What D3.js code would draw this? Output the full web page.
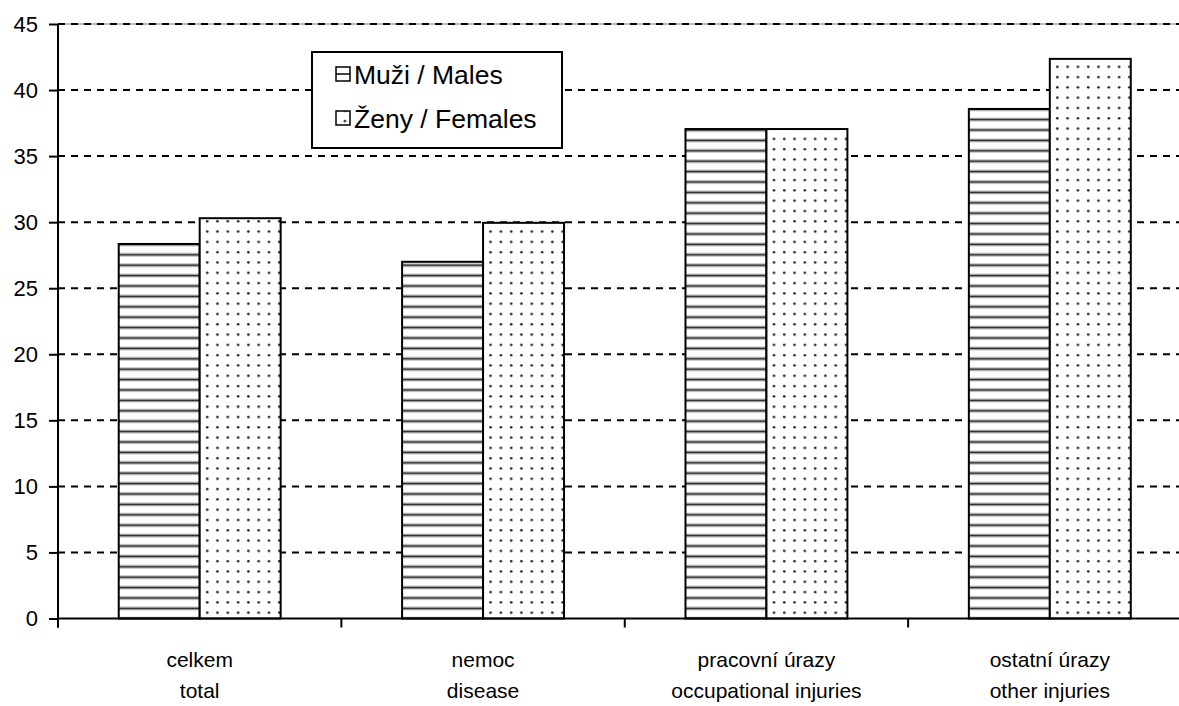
<!DOCTYPE html>
<html>
<head>
<meta charset="utf-8">
<script src="https://cdn.jsdelivr.net/npm/d3@7"></script>
<style>
  body { margin: 0; background: #fff; }
  svg { display: block; font-family: "Liberation Sans", Arial, sans-serif; }
</style>
</head>
<body>
<svg class="chart" width="1179" height="706"></svg>
<script>
var categories = ["celkem|total", "nemoc|disease", "pracovní úrazy|occupational injuries", "ostatní úrazy|other injuries"];
var seriesNames = ["Muži / Males", "Ženy / Females"];
var males = [28.35, 27.0, 37.05, 38.57];
var females = [30.3, 29.95, 37.05, 42.36];
var yTicks = [0, 5, 10, 15, 20, 25, 30, 35, 40, 45];

(function () {
    var svg = d3.select(".chart"),
        left = 58, right = 1191.5, top = 24, bottom = 618.5;

    var defs = svg.append("defs");

    // horizontal stripes for males
    var stripes = defs.append("pattern")
        .attr("id", "stripes")
        .attr("patternUnits", "userSpaceOnUse")
        .attr("width", 20).attr("height", 10.4);
    stripes.append("rect").attr("width", 20).attr("height", 10.4).attr("fill", "#fff");
    stripes.append("rect").attr("y", 4.2).attr("width", 20).attr("height", 2).attr("fill", "#222");
    stripes.append("rect").attr("y", 3.4).attr("width", 20).attr("height", 0.8).attr("fill", "#aaa");
    stripes.append("rect").attr("y", 6.2).attr("width", 20).attr("height", 0.8).attr("fill", "#aaa");

    // dots for females
    var dots = defs.append("pattern")
        .attr("id", "dots")
        .attr("patternUnits", "userSpaceOnUse")
        .attr("width", 10.3).attr("height", 10.3);
    dots.append("rect").attr("width", 10.3).attr("height", 10.3).attr("fill", "#fff");
    dots.append("circle").attr("cx", 5).attr("cy", 5).attr("r", 1.3).attr("fill", "#222");

    var x0 = d3.scaleBand()
        .domain(categories)
        .range([left, right])
        .paddingInner(0).paddingOuter(0);

    var x1 = d3.scaleBand()
        .domain(seriesNames)
        .range([0, x0.bandwidth()])
        .paddingInner(0).paddingOuter(0.75);

    var y = d3.scaleLinear()
        .domain([0, 45])
        .range([bottom, top]);

    // top border of plot area
    svg.append("line")
        .attr("x1", left).attr("x2", 1179)
        .attr("y1", y(45)).attr("y2", y(45))
        .attr("stroke", "#777").attr("stroke-width", 1);

    // grid
    svg.append("g")
        .selectAll("line")
        .data(yTicks.filter(function (d) { return d > 0; }))
        .enter()
        .append("line")
        .attr("x1", left).attr("x2", 1179)
        .attr("y1", function (d) { return y(d); })
        .attr("y2", function (d) { return y(d); })
        .attr("stroke", "#000")
        .attr("stroke-width", 2)
        .attr("stroke-dasharray", "7,6");

    var seriesData = [males, females];
    var fills = ["url(#stripes)", "url(#dots)"];

    var groups = svg.append("g")
        .selectAll("g")
        .data(categories)
        .enter()
        .append("g")
        .attr("transform", function (d) { return "translate(" + x0(d) + ",0)"; });

    groups.selectAll("rect")
        .data(function (d, i) {
            return seriesNames.map(function (s, j) { return { s: s, v: seriesData[j][i], j: j }; });
        })
        .enter()
        .append("rect")
        .attr("x", function (d) { return x1(d.s); })
        .attr("y", function (d) { return y(d.v); })
        .attr("width", x1.bandwidth())
        .attr("height", function (d) { return y(0) - y(d.v); })
        .attr("fill", function (d) { return fills[d.j]; })
        .attr("stroke", "#000")
        .attr("stroke-width", 2);

    // y axis
    var yAxis = svg.append("g")
        .attr("transform", "translate(" + left + ",0)")
        .call(d3.axisLeft(y).tickValues(yTicks).tickSize(9).tickPadding(11).tickSizeOuter(0));
    yAxis.select(".domain").attr("stroke-width", 2).attr("d", "M0," + (bottom + 9) + "V" + top);
    yAxis.selectAll(".tick line").attr("stroke-width", 2);
    yAxis.selectAll("text")
        .attr("font-size", 22)
        .attr("font-family", "Liberation Sans, Arial, sans-serif")
        .attr("fill", "#000");

    // x axis
    svg.append("line")
        .attr("x1", left).attr("x2", 1179)
        .attr("y1", bottom).attr("y2", bottom)
        .attr("stroke", "#000").attr("stroke-width", 2);

    svg.append("g")
        .selectAll("line")
        .data(categories)
        .enter()
        .append("line")
        .attr("x1", function (d) { return x0(d); })
        .attr("x2", function (d) { return x0(d); })
        .attr("y1", bottom).attr("y2", bottom + 9)
        .attr("stroke", "#000").attr("stroke-width", 2);

    var labels = svg.append("g")
        .selectAll("text")
        .data(categories)
        .enter()
        .append("text")
        .attr("x", function (d) { return x0(d) + x0.bandwidth() / 2; })
        .attr("y", 667)
        .attr("text-anchor", "middle")
        .attr("font-size", 21)
        .attr("fill", "#000");
    labels.append("tspan")
        .text(function (d) { return d.split("|")[0]; });
    labels.append("tspan")
        .attr("x", function (d) { return x0(d) + x0.bandwidth() / 2; })
        .attr("dy", 31)
        .text(function (d) { return d.split("|")[1]; });

    // legend
    var legend = svg.append("g");
    legend.append("rect")
        .attr("x", 312).attr("y", 52)
        .attr("width", 250).attr("height", 96)
        .attr("fill", "#fff")
        .attr("stroke", "#000").attr("stroke-width", 2);

    var rows = legend.selectAll(".row")
        .data(seriesNames)
        .enter()
        .append("g")
        .attr("class", "row")
        .attr("transform", function (d, i) { return "translate(0," + (i * 44) + ")"; });

    rows.append("rect")
        .attr("x", 336).attr("y", 67)
        .attr("width", 14).attr("height", 14)
        .attr("fill", function (d, i) { return i === 0 ? "#fff" : "url(#dots)"; })
        .attr("stroke", "#000").attr("stroke-width", 1.5);
    rows.filter(function (d, i) { return i === 0; })
        .append("line")
        .attr("x1", 336).attr("x2", 350)
        .attr("y1", 74).attr("y2", 74)
        .attr("stroke", "#000").attr("stroke-width", 1.5);

    rows.append("text")
        .attr("x", 354).attr("y", 84)
        .attr("font-size", 26.5)
        .attr("fill", "#000")
        .text(function (d) { return d; });
})();
</script>
</body>
</html>
